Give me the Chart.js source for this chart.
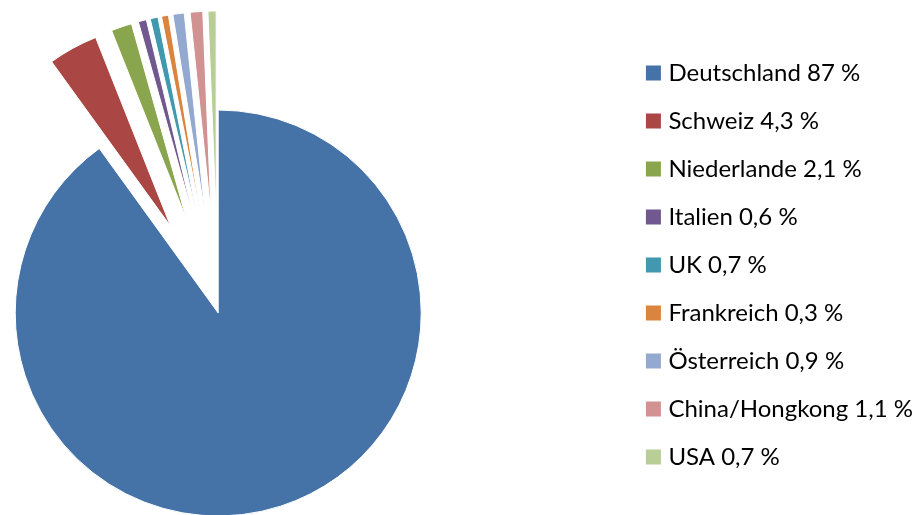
<!DOCTYPE html>
<html>
<head>
<meta charset="utf-8">
<script src="https://cdn.jsdelivr.net/npm/chart.js@4.4.1/dist/chart.umd.min.js"></script>
<style>
html, body { margin: 0; padding: 0; background: #fff; overflow: hidden; }
#wrap { position: relative; width: 919px; height: 515px; overflow: hidden; }
#c { position: absolute; left: -190px; top: 0; }
</style>
</head>
<body>
<div id="wrap"><canvas id="c" width="1113" height="589"></canvas></div>
<script>
// ---- data ----
const categories = ['Deutschland', 'Schweiz', 'Niederlande', 'Italien', 'UK', 'Frankreich', 'Österreich', 'China/Hongkong', 'USA'];
const shareLabels = ['87 %', '4,3 %', '2,1 %', '0,6 %', '0,7 %', '0,3 %', '0,9 %', '1,1 %', '0,7 %'];
// slice sizes
const sliceValues = [90.1, 3.95, 1.65, 0.65, 0.62, 0.55, 0.9, 1.0, 0.65];
const sliceColors = ['#4572A7', '#AA4643', '#89A54E', '#71588F', '#4198AF', '#DB843D', '#93A9CF', '#D19392', '#B9CD96'];

// ---- explode all slices except the first (pure translation along the mid angle) ----
const explodePlugin = {
  id: 'explode',
  afterDatasetsUpdate(chart, args, opts) {
    const dist = opts.distance || 0;
    const meta = chart.getDatasetMeta(0);
    meta.data.forEach((arc, i) => {
      if ((opts.skip || []).includes(i)) return;
      const mid = (arc.startAngle + arc.endAngle) / 2;
      arc.x += Math.cos(mid) * dist;
      arc.y += Math.sin(mid) * dist;
    });
  }
};

new Chart(document.getElementById('c'), {
  type: 'pie',
  data: {
    labels: categories,
    datasets: [{
      data: sliceValues,
      backgroundColor: sliceColors,
      borderColor: '#ffffff',
      borderWidth: 1
    }]
  },
  options: {
    responsive: false,
    animation: false,
    events: [],
    radius: 203,
    layout: { padding: { left: 0, right: 0, top: 37, bottom: 0 } },
    plugins: {
      tooltip: { enabled: false },
      explode: { distance: 99, skip: [0] },
      legend: {
        position: 'right',
        align: 'start',
        labels: {
          color: '#000',
          font: { family: 'Lato', size: 24 },
          usePointStyle: true,
          pointStyle: 'rect',
          boxWidth: 6,
          boxHeight: 15,
          padding: 24,
          generateLabels: (chart) => categories.map((c, i) => ({
            text: c + ' ' + shareLabels[i],
            fillStyle: sliceColors[i],
            strokeStyle: sliceColors[i],
            lineWidth: 0,
            pointStyle: 'rect',
            hidden: false,
            index: i
          }))
        }
      }
    }
  },
  plugins: [explodePlugin]
});
</script>
</body>
</html>
